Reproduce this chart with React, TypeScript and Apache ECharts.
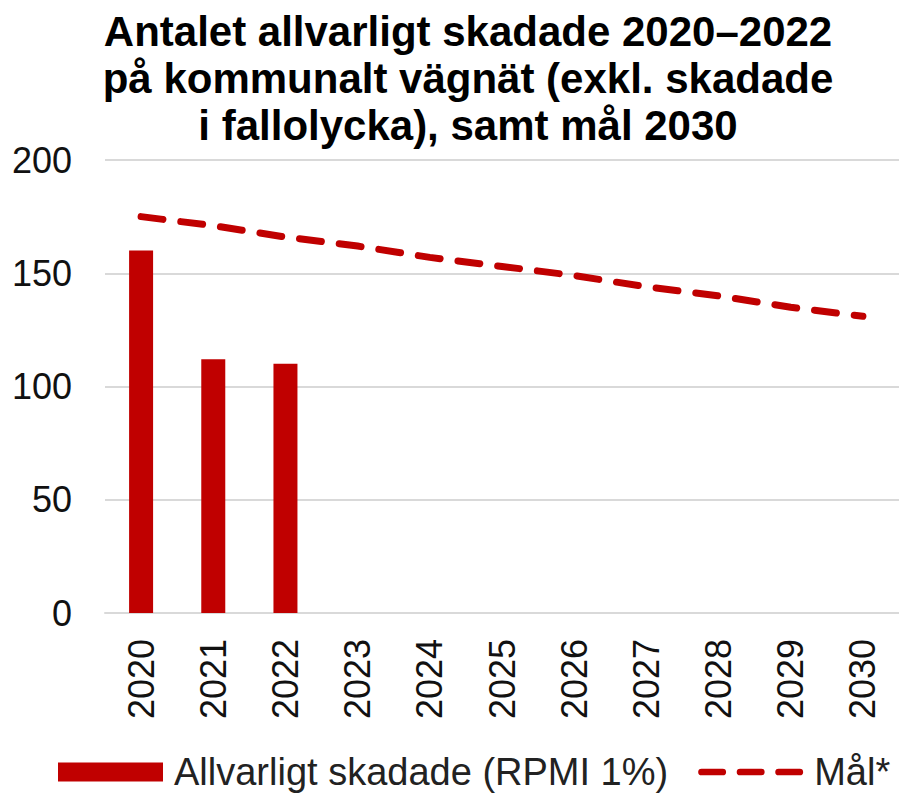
import React, { useEffect, useRef } from "react";
import * as echarts from "echarts";

const years = ["2020", "2021", "2022", "2023", "2024", "2025", "2026", "2027", "2028", "2029", "2030"];
const injured = [160, 112, 110, null, null, null, null, null, null, null, null];
const target = [175, 171, 166, 162, 157, 153, 149, 144, 140, 135, 131];
const titleText = "Antalet allvarligt skadade 2020–2022\npå kommunalt vägnät (exkl. skadade\ni fallolycka), samt mål 2030";
const barName = "Allvarligt skadade (RPMI 1%)";
const lineName = "Mål*";

const FONT = "'Liberation Sans', Arial, sans-serif";
const RED = "#C00000";

function capsule(x: number) {
  return `M${x + 3.5} 6 H${x + 25.5} A3.5 3.5 0 0 1 ${x + 25.5} 13 H${x + 3.5} A3.5 3.5 0 0 1 ${x + 3.5} 6 Z`;
}
const dashIcon =
  "path://M0 0 L0.01 0 L0.01 0.01 Z M109 19 L108.99 19 L108.99 18.99 Z " +
  capsule(0) + " " + capsule(40) + " " + capsule(80);

export default function App() {
  const ref = useRef<HTMLDivElement>(null);
  useEffect(() => {
    if (!ref.current) return;
    const chart = echarts.init(ref.current, undefined, { renderer: "svg" });
    chart.setOption({
      animation: false,
      backgroundColor: "#ffffff",
      title: {
        text: titleText,
        left: 463,
        top: 3,
        textAlign: "center",
        textStyle: {
          fontFamily: FONT,
          fontSize: 42,
          fontWeight: "bold",
          color: "#000",
          lineHeight: 47,
        },
      },
      legend: {
        left: 53,
        top: 747,
        itemWidth: 105,
        itemHeight: 19,
        itemGap: 30,
        textStyle: {
          fontFamily: FONT,
          fontSize: 38,
          lineHeight: 40,
          color: "#222",
          padding: [0, 0, 0, 6],
        },
        data: [
          { name: barName, icon: "rect" },
          { name: lineName, icon: dashIcon, itemStyle: { color: RED, borderWidth: 0 } },
        ],
      },
      grid: {
        left: 105,
        top: 160,
        width: 797,
        height: 453,
        containLabel: false,
      },
      xAxis: {
        type: "category",
        data: years,
        boundaryGap: true,
        axisLine: { show: true, lineStyle: { color: "#d9d9d9", width: 2 } },
        axisTick: { show: false },
        axisLabel: {
          interval: 0,
          rotate: 90,
          margin: 26,
          fontFamily: FONT,
          fontSize: 36,
          color: "#111",
        },
      },
      yAxis: {
        type: "value",
        min: 0,
        max: 200,
        interval: 50,
        axisLine: { show: false },
        axisTick: { show: false },
        splitLine: { lineStyle: { color: "#d9d9d9", width: 2 } },
        axisLabel: {
          margin: 33,
          fontFamily: FONT,
          fontSize: 36,
          color: "#111",
        },
      },
      series: [
        {
          name: barName,
          type: "bar",
          data: injured,
          barWidth: 24,
          itemStyle: { color: RED },
        },
        {
          name: lineName,
          type: "line",
          data: target,
          symbol: "none",
          showSymbol: false,
          itemStyle: { color: RED },
          lineStyle: { color: RED, width: 7, type: [22, 18], cap: "round" },
        },
      ],
    });
    return () => chart.dispose();
  }, []);
  return (
    <div
      ref={ref}
      style={{ position: "absolute", left: 0, top: 0, width: 899, height: 793 }}
    />
  );
}
